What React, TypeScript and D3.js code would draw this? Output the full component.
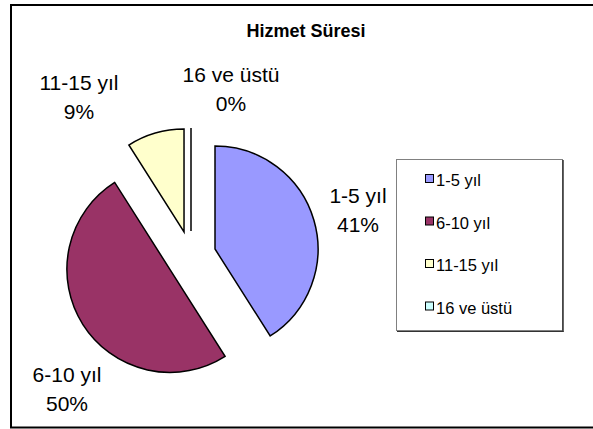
import React from "react";
import * as d3 from "d3";

const categories = ["1-5 yıl", "6-10 yıl", "11-15 yıl", "16 ve üstü"];
const values = [41, 50, 9, 0];
const percentLabels = ["41%", "50%", "9%", "0%"];
const colors = ["#9999FF", "#993366", "#FFFFCC", "#CCFFFF"];
const title = "Hizmet Süresi";

// layout (label block centers: x, first baseline)
const labelLayout = [
  { x: 358, y: 203 },
  { x: 67, y: 382 },
  { x: 79, y: 90 },
  { x: 231, y: 82 },
];

const W = 593;
const H = 429;
const cx = 191;
const cy = 256;
const R = 103;
const explode = 25;
const font = "Arial, 'Liberation Sans', sans-serif";

export default function App() {
  const pie = d3
    .pie<number>()
    .sort(null)
    .value((d) => d)
    .startAngle(0)
    .endAngle(2 * Math.PI);
  const arcs = pie(values);
  const arc = d3.arc<d3.PieArcDatum<number>>().innerRadius(0).outerRadius(R);

  return (
    <svg
      width={W}
      height={H}
      style={{ position: "absolute", left: 0, top: 0, background: "#fff" }}
    >
      <rect x={11} y={5} width={W + 10} height={422.5} fill="#fff" stroke="#000" strokeWidth={2} />
      <text
        x={306}
        y={37}
        textAnchor="middle"
        fontFamily={font}
        fontWeight="bold"
        fontSize={18}
      >
        {title}
      </text>
      {arcs.map((a, i) => {
        const mid = (a.startAngle + a.endAngle) / 2;
        const dx = Math.sin(mid) * explode;
        const dy = -Math.cos(mid) * explode;
        return (
          <path
            key={i}
            d={arc(a) || ""}
            transform={`translate(${cx + dx},${cy + dy})`}
            fill={colors[i]}
            stroke="#000"
            strokeWidth={1.5}
            strokeLinejoin="miter"
          />
        );
      })}
      {categories.map((c, i) => (
        <text
          key={c}
          x={labelLayout[i].x}
          y={labelLayout[i].y}
          textAnchor="middle"
          fontFamily={font}
          fontSize={21}
        >
          <tspan x={labelLayout[i].x}>{c}</tspan>
          <tspan x={labelLayout[i].x} dy={29}>
            {percentLabels[i]}
          </tspan>
        </text>
      ))}
      <g>
        <rect x={396.5} y={159.5} width={166} height={171} fill="#fff" stroke="#808080" strokeWidth={1} />
        <line x1={563} y1={160} x2={563} y2={332} stroke="#333" strokeWidth={1.5} />
        <line x1={397} y1={331.5} x2={563.5} y2={331.5} stroke="#333" strokeWidth={1.2} />
        {categories.map((c, i) => {
          const y = 186 + i * 42.5;
          return (
            <g key={c}>
              <rect x={425.5} y={y - 11.5} width={8} height={8} fill={colors[i]} stroke="#000" strokeWidth={1} />
              <text x={436} y={y} fontFamily={font} fontSize={16.5}>
                {c}
              </text>
            </g>
          );
        })}
      </g>
    </svg>
  );
}
